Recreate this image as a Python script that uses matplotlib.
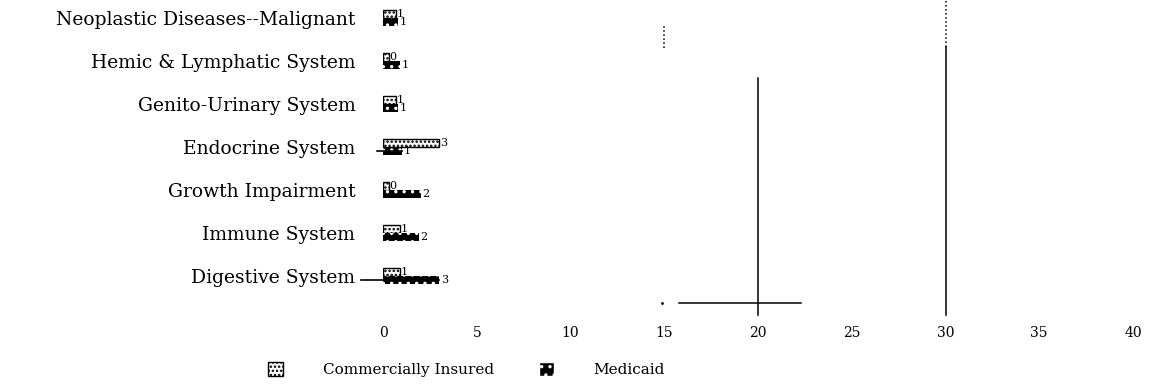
import matplotlib
matplotlib.use("Agg")
import matplotlib.pyplot as plt
from matplotlib.patches import Patch
import numpy as np

plt.rcParams['font.family'] = ['DejaVu Serif']
plt.rcParams['hatch.linewidth'] = 1.2

# Categories listed bottom to top
categories = [
    "Digestive System",
    "Immune System",
    "Growth Impairment",
    "Endocrine System",
    "Genito-Urinary System",
    "Hemic & Lymphatic System",
    "Neoplastic Diseases--Malignant",
]
commercial = [0.9, 0.9, 0.3, 3.0, 0.7, 0.3, 0.7]
medicaid = [3.0, 1.9, 2.0, 1.0, 0.8, 0.9, 0.8]
medicaid_err_low = [4.2, 0.0, 0.0, 1.3, 0.0, 0.0, 0.0]

series_names = ["Commercially Insured", "Medicaid"]
x_ticks = [0, 5, 10, 15, 20, 25, 30, 35, 40]

# Reference segments: (x, y_start, y_end, style)
vseg_x = [15, 20, 30, 30]
vseg_y0 = [5.30, -0.91, -0.91, 5.33]
vseg_y1 = [5.84, 4.60, 5.33, 6.42]
vseg_style = [":", "-", "-", ":"]
hseg_x0, hseg_x1, hseg_y = 15.8, 22.3, -0.63
hmark_x = 14.9

fig = plt.figure(figsize=(11.52, 3.85), dpi=100)
ax = fig.add_axes([0.3325, 0.174, 0.651, 0.826])

y = np.arange(len(categories))
h = 0.19
off = 0.1

ax.barh(y + off, commercial, height=h, facecolor="white", edgecolor="black",
        hatch="....", linewidth=1.0)
ax.barh(y - off, medicaid, height=h, facecolor="black", edgecolor="white",
        hatch="..", linewidth=0.0)

# Lower whiskers on the Medicaid bars (may reach past zero)
for yi, v, e in zip(y, medicaid, medicaid_err_low):
    if e > 0:
        ax.plot([v - e, v], [yi - off, yi - off], color="black", lw=1.2,
                clip_on=False)

for yi, v in zip(y, commercial):
    ax.text(v + 0.05, yi + off, f"{v:.0f}", va="center", ha="left", fontsize=8)
for yi, v in zip(y, medicaid):
    ax.text(v + 0.1, yi - off, f"{v:.0f}", va="center", ha="left", fontsize=8)

for xv, y0, y1, ls in zip(vseg_x, vseg_y0, vseg_y1, vseg_style):
    ax.plot([xv, xv], [y0, y1], color="black", lw=1.1, ls=ls)
ax.plot([hseg_x0, hseg_x1], [hseg_y, hseg_y], color="black", lw=1.1)
ax.plot([hmark_x], [hseg_y], marker=".", color="black", ms=2)

ax.set_xlim(0, 40)
ax.set_ylim(-0.98, 6.42)
ax.set_xticks(x_ticks)
ax.set_xticklabels([str(t) for t in x_ticks], fontsize=10)
ax.set_yticks(y)
ax.set_yticklabels(categories, fontsize=13.5)
ax.tick_params(axis="both", length=0)
ax.tick_params(axis="y", pad=20)
ax.tick_params(axis="x", pad=6)
for s in ax.spines.values():
    s.set_visible(False)

handles = [
    Patch(facecolor="white", edgecolor="black", hatch="....", label=series_names[0]),
    Patch(facecolor="black", edgecolor="white", hatch="..", label=series_names[1]),
]
fig.legend(handles=handles, loc="center", bbox_to_anchor=(0.405, 0.04), ncol=2,
           frameon=False, fontsize=11, handlelength=1.0, handleheight=1.0,
           handletextpad=2.6, columnspacing=2.9)

fig.savefig("out.png", dpi=100)
